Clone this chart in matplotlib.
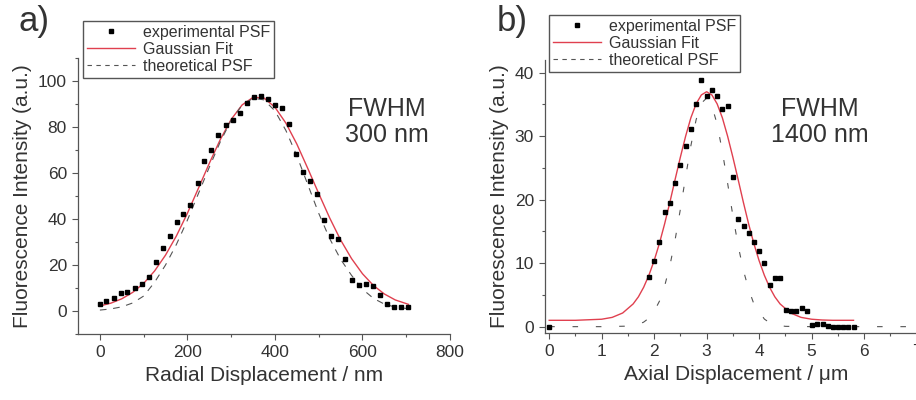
import matplotlib
matplotlib.use("Agg")
import matplotlib.pyplot as plt
from matplotlib.ticker import MultipleLocator

plt.rcParams["font.family"] = ["Liberation Sans", "DejaVu Sans"]

# ── panel a: radial PSF ──────────────────────
rad_x = [0, 15, 32, 48, 63, 80, 97, 112, 128, 144, 160, 176, 191, 207,
         224, 239, 255, 271, 288, 304, 320, 336, 352, 368, 383, 400, 416,
         432, 449, 464, 480, 496, 512, 528, 544, 560, 576, 592, 608, 624,
         640, 656, 673, 689, 704]
rad_y = [2.9, 4.2, 5.7, 7.9, 8.3, 10.2, 11.6, 14.8, 21.3, 27.5, 32.8, 38.7,
         42.2, 46.0, 55.8, 65.2, 69.9, 76.5, 80.7, 83.2, 86.2, 90.6, 93.0,
         93.3, 92.3, 89.4, 88.4, 81.2, 68.4, 60.4, 56.5, 50.7, 39.6, 32.6,
         31.1, 22.4, 13.4, 11.2, 11.9, 10.8, 6.8, 2.9, 1.7, 1.7, 1.7]

rad_curve_x = [0, 25, 50, 75, 100, 125, 150, 175, 200, 225, 250, 275, 300,
               325, 350, 375, 400, 425, 450, 475, 500, 525, 550, 575, 600,
               625, 650, 675, 705]
rad_fit_y = [2.2, 3.4, 5.3, 8.1, 12.0, 17.4, 24.3, 32.7, 42.5, 53.3, 64.2,
             74.5, 83.3, 89.6, 92.9, 92.6, 88.6, 81.7, 72.6, 62.0, 51.1,
             40.5, 30.9, 22.8, 16.2, 11.1, 7.4, 4.8, 2.9]
rad_theo_y = [0.4, 0.9, 1.8, 3.5, 6.5, 12.5, 20.0, 29.0, 39.5, 51.0, 62.5,
              73.5, 83.0, 89.5, 92.5, 91.8, 87.0, 78.5, 67.5, 55.0, 42.5,
              31.5, 22.5, 15.5, 9.5, 5.5, 3.0, 1.7, 1.0]

# ── panel b: axial PSF ───────────────────────
ax_x = [0.0, 1.91, 2.0, 2.1, 2.2, 2.3, 2.4, 2.5, 2.6, 2.7, 2.8, 2.9, 3.0,
        3.1, 3.2, 3.3, 3.4, 3.5, 3.6, 3.71, 3.8, 3.9, 4.0, 4.1, 4.2, 4.3,
        4.4, 4.51, 4.6, 4.7, 4.81, 4.91, 5.01, 5.1, 5.21, 5.31, 5.4, 5.5,
        5.6, 5.7, 5.81]
ax_y = [0.0, 7.8, 10.4, 13.4, 18.0, 19.4, 22.6, 25.5, 28.5, 31.1, 35.1,
        38.8, 36.4, 37.2, 36.3, 34.3, 34.8, 23.6, 16.9, 15.9, 14.7, 13.4,
        11.9, 10.1, 6.5, 7.6, 7.6, 2.6, 2.5, 2.5, 2.9, 2.4, 0.3, 0.4, 0.4,
        0.05, 0.0, 0.0, 0.0, 0.0, 0.0]

ax_fit_x = [0.0, 0.5, 1.0, 1.2, 1.4, 1.6, 1.7, 1.8, 1.9, 2.0, 2.1, 2.2,
            2.3, 2.4, 2.5, 2.6, 2.7, 2.8, 2.9, 3.0, 3.1, 3.2, 3.3, 3.4, 3.5,
            3.6, 3.7, 3.8, 3.9, 4.0, 4.1, 4.2, 4.3, 4.4, 4.6, 4.8, 5.0, 5.2,
            5.4, 5.6, 5.8]
ax_fit_y = [1.0, 1.0, 1.17, 1.46, 2.15, 3.58, 4.7, 6.2, 8.1, 10.4, 13.1,
            16.2, 19.6, 23.2, 26.7, 30.0, 32.9, 35.1, 36.5, 37.0, 36.5, 35.1,
            32.9, 30.0, 26.7, 23.2, 19.6, 16.2, 13.1, 10.4, 8.1, 6.2, 4.7,
            3.58, 2.15, 1.46, 1.17, 1.05, 1.0, 1.0, 1.0]

ax_theo_x = [0.0, 1.0, 1.5, 1.7, 1.8, 1.9, 2.0, 2.1, 2.2, 2.3, 2.4, 2.5,
             2.6, 2.7, 2.8, 2.9, 3.0, 3.1, 3.2, 3.3, 3.4, 3.5, 3.6, 3.7,
             3.8, 3.9, 4.0, 4.1, 4.2, 4.3, 4.5, 5.0, 6.0, 7.0]
ax_theo_y = [0.0, 0.0, 0.08, 0.36, 0.71, 1.34, 2.4, 4.0, 6.4, 9.6, 13.7,
             18.5, 23.6, 28.5, 32.6, 35.2, 36.0, 34.8, 31.9, 27.6, 22.6,
             17.5, 12.8, 8.9, 5.9, 3.6, 2.4, 1.2, 0.62, 0.3, 0.05, 0.0, 0.0,
             0.0]

COLOR_FIT   = "#e0404f"
COLOR_THEO  = "#555555"
COLOR_AXIS  = "#555555"
COLOR_TEXT  = "#333333"


def style_axes(ax):
    for side in ("top", "right"):
        ax.spines[side].set_visible(False)
    for side in ("left", "bottom"):
        ax.spines[side].set_color(COLOR_AXIS)
        ax.spines[side].set_linewidth(0.9)
    ax.tick_params(which="both", direction="out", colors=COLOR_AXIS,
                   labelcolor=COLOR_TEXT, labelsize=12.5, width=0.8)
    ax.tick_params(which="major", length=4.5)
    ax.tick_params(which="minor", length=2.5)


def add_legend(ax, anchor):
    leg = ax.legend(loc="upper left", bbox_to_anchor=anchor,
                    bbox_transform=fig.transFigure, numpoints=1,
                    fontsize=11.5, frameon=True, fancybox=False, framealpha=1,
                    edgecolor="#555555", handlelength=3.0, handletextpad=0.5,
                    labelspacing=0.12, borderpad=0.25, borderaxespad=0,
                    labelcolor=COLOR_TEXT)
    # legend shows the normal dash spacing
    leg.get_lines()[2].set_dashes((4, 4))


fig = plt.figure(figsize=(9.16, 4.0), dpi=100)

# ── a) ───────────────────────────────────────
ax1 = fig.add_axes([78 / 916, 66 / 400, 372 / 916, 276 / 400])
ax1.plot(rad_x, rad_y, "s", color="black", ms=3.3, label="experimental PSF",
         zorder=3)
ax1.plot(rad_curve_x, rad_fit_y, color=COLOR_FIT, lw=1.0, label="Gaussian Fit")
ax1.plot(rad_curve_x, rad_theo_y, color=COLOR_THEO, lw=0.8,
         dashes=(6, 6), label="theoretical PSF")
ax1.set_xlim(-50, 800)
ax1.set_ylim(-10, 110)
ax1.xaxis.set_major_locator(MultipleLocator(200))
ax1.xaxis.set_minor_locator(MultipleLocator(100))
ax1.yaxis.set_major_locator(MultipleLocator(20))
ax1.yaxis.set_minor_locator(MultipleLocator(10))
ax1.set_yticks([0, 20, 40, 60, 80, 100])
style_axes(ax1)
ax1.set_xlabel("Radial Displacement / nm", fontsize=15, color=COLOR_TEXT,
               labelpad=4)
ax1.set_ylabel("Fluorescence Intensity (a.u.)", fontsize=15, color=COLOR_TEXT,
               labelpad=4)
add_legend(ax1, (83 / 916, 1 - 21 / 400))

# ── b) ───────────────────────────────────────
ax2 = fig.add_axes([545 / 916, 67 / 400, 382 / 916, 273 / 400])
ax2.plot(ax_x, ax_y, "s", color="black", ms=3.3, label="experimental PSF",
         zorder=3)
ax2.plot(ax_fit_x, ax_fit_y, color=COLOR_FIT, lw=1.0, label="Gaussian Fit")
ax2.plot(ax_theo_x, ax_theo_y, color=COLOR_THEO, lw=0.8,
         dashes=(5, 16), label="theoretical PSF")
ax2.set_xlim(-0.08, 7.2)
ax2.set_ylim(-1, 42)
ax2.xaxis.set_major_locator(MultipleLocator(1))
ax2.xaxis.set_minor_locator(MultipleLocator(0.5))
ax2.yaxis.set_major_locator(MultipleLocator(10))
ax2.yaxis.set_minor_locator(MultipleLocator(5))
ax2.set_yticks([0, 10, 20, 30, 40])
ax2.set_xticks([0, 1, 2, 3, 4, 5, 6, 7])
style_axes(ax2)
ax2.set_xlabel("Axial Displacement / \u03bcm", fontsize=15, color=COLOR_TEXT,
               labelpad=4)
ax2.set_ylabel("Fluorescence Intensity (a.u.)", fontsize=15, color=COLOR_TEXT,
               labelpad=4)
add_legend(ax2, (549 / 916, 1 - 15 / 400))

# ── panel letters and FWHM notes ─────────────
fig.text(18 / 916, 1 - 22 / 400, "a)", fontsize=25, color=COLOR_TEXT,
         ha="left", va="center")
fig.text(497 / 916, 1 - 22 / 400, "b)", fontsize=25, color=COLOR_TEXT,
         ha="left", va="center")
fig.text(387 / 916, 1 - 122 / 400, "FWHM\n300 nm", fontsize=18,
         color=COLOR_TEXT, ha="center", va="center", linespacing=1.15)
fig.text(820 / 916, 1 - 122 / 400, "FWHM\n1400 nm", fontsize=18,
         color=COLOR_TEXT, ha="center", va="center", linespacing=1.15)

fig.savefig("out.png", dpi=100, facecolor="white")
